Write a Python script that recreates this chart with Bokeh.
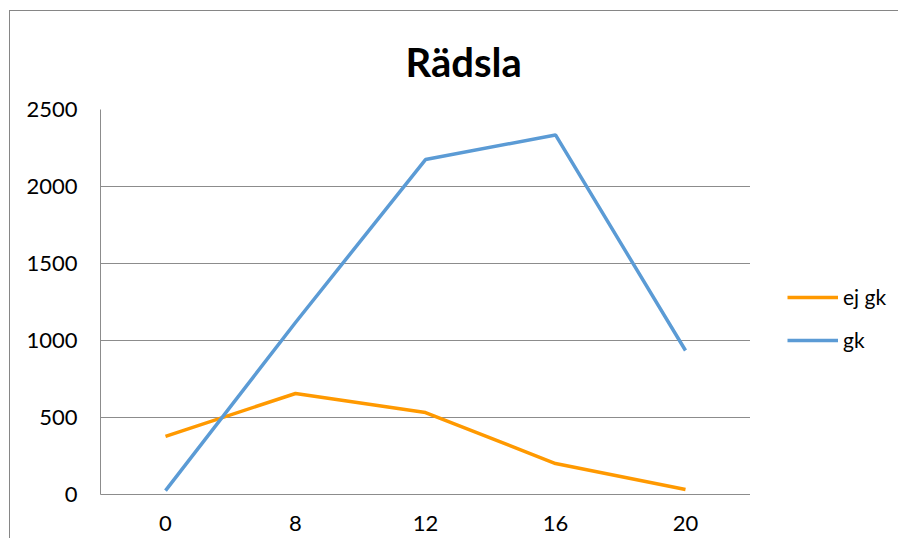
from bokeh.plotting import figure
from bokeh.layouts import row
from bokeh.models import FactorRange, Range1d, Legend, LegendItem, FixedTicker, Title
from bokeh.embed import file_html
from bokeh.resources import INLINE

categories = ["0", "8", "12", "16", "20"]
ej_gk = [377, 656, 532, 201, 32]
gk = [25, 1117, 2175, 2335, 935]
y_ticks = [0, 500, 1000, 1500, 2000, 2500]
title_text = "Rädsla"
series_names = ["ej gk", "gk"]
series_colors = ["#FF9900", "#5B9BD5"]

font = "Lato"

p = figure(frame_width=650, frame_height=385, x_range=FactorRange(*categories, range_padding=0),
           y_range=Range1d(0, 2500), output_backend="svg", toolbar_location=None,
           min_border_left=90, min_border_right=0, min_border_top=98, min_border_bottom=44)
p.outline_line_color = None
p.background_fill_color = "white"
p.border_fill_color = "white"

p.line(categories, ej_gk, line_color=series_colors[0], line_width=3.5)
p.line(categories, gk, line_color=series_colors[1], line_width=3.5)

p.yaxis.ticker = FixedTicker(ticks=y_ticks)
for ax in (p.xaxis[0], p.yaxis[0]):
    ax.axis_line_color = "#8c8c8c"
    ax.axis_line_width = 1
    ax.major_tick_line_color = None
    ax.minor_tick_line_color = None
    ax.major_label_text_font = font
    ax.major_label_text_font_size = "22px"
    ax.major_label_text_color = "black"
p.yaxis.major_label_standoff = 17
p.xaxis.major_label_standoff = 15
p.xgrid.grid_line_color = None
p.ygrid.grid_line_color = "#8c8c8c"
p.ygrid.grid_line_width = 1

p.title = Title(text=title_text, text_font=font, text_font_style="bold", text_color="black",
                text_font_size="40px", align="left", offset=305, standoff=48)

# legend panel to the right of the plot
lg = figure(width=148, height=527, x_range=FactorRange(*categories), y_range=Range1d(0, 2500),
            x_axis_type=None, y_axis_type=None, output_backend="svg", toolbar_location=None,
            min_border_left=0, min_border_right=0, min_border_top=0, min_border_bottom=0)
lg.outline_line_color = None
lg.xgrid.grid_line_color = None
lg.ygrid.grid_line_color = None
lr1 = lg.line(categories, ej_gk, line_color=series_colors[0], line_width=3.5, visible=False)
lr2 = lg.line(categories, gk, line_color=series_colors[1], line_width=3.5, visible=False)

legend = Legend(items=[LegendItem(label=series_names[0], renderers=[lr1]),
                       LegendItem(label=series_names[1], renderers=[lr2])],
                location=(37, 142), padding=0, margin=0, spacing=18,
                glyph_width=51, glyph_height=20, label_standoff=5,
                label_text_font=font, label_text_font_size="21px",
                label_text_color="black", inactive_fill_alpha=0,
                background_fill_alpha=0, border_line_color=None)
lg.add_layout(legend, "center")

layout = row(p, lg, spacing=0)
layout.styles = {"margin-left": "9px", "margin-top": "10px",
                 "border-left": "1px solid #868686", "border-top": "1px solid #868686"}

open("out.html", "w").write(file_html(layout, INLINE))
